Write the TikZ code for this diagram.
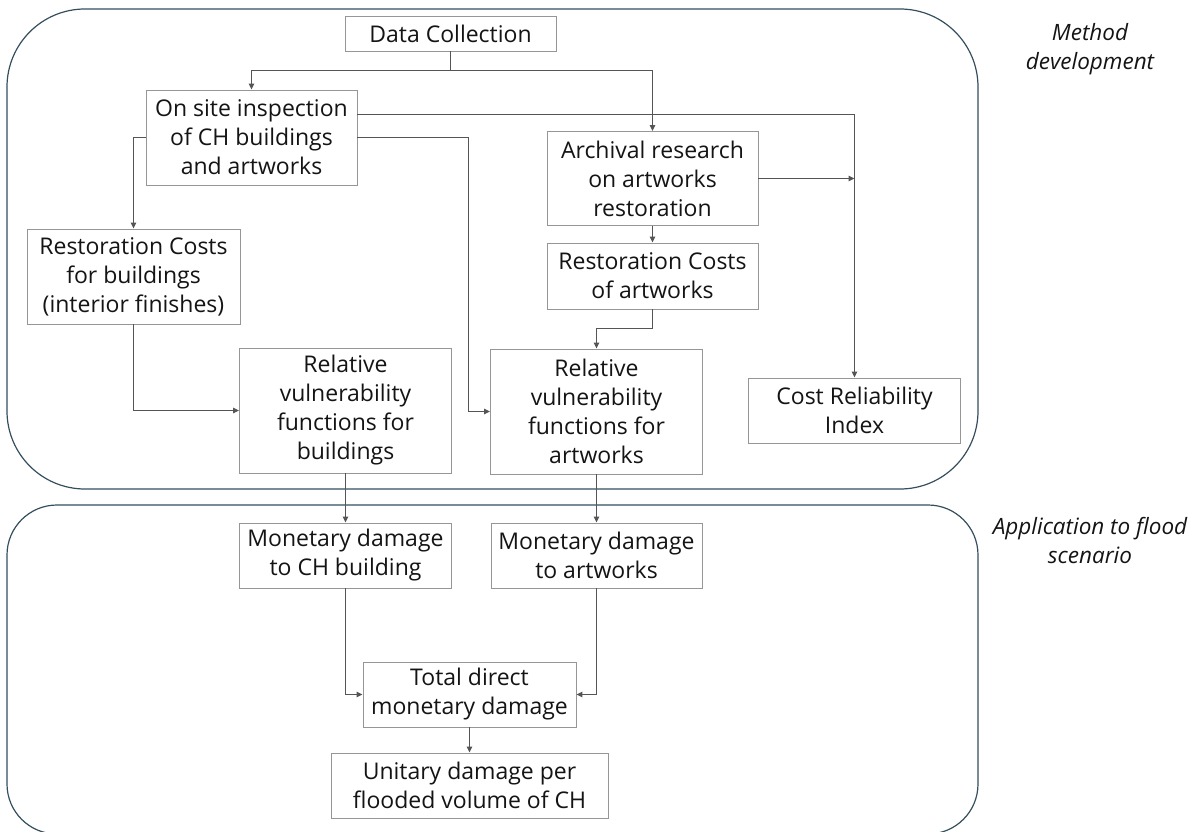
\documentclass[tikz,border=0pt]{standalone}
\usepackage{fontspec}
\setmainfont{Open Sans}
\usetikzlibrary{arrows.meta}
\definecolor{boxline}{RGB}{150,150,150}
\definecolor{arrcol}{RGB}{85,85,85}
\definecolor{outercol}{RGB}{52,78,94}
\definecolor{txt}{RGB}{20,20,20}
\begin{document}
\begin{tikzpicture}[x=1pt,y=-1pt,
  box/.style={draw=boxline, line width=0.9pt, fill=white, inner sep=0pt, align=center, text=txt,
    font=\fontsize{23}{29}\selectfont},
  arr/.style={draw=arrcol, line width=1.1pt, -{Triangle[length=6pt,width=5.5pt]}},
  outer/.style={draw=outercol, line width=1.2pt},
  lab/.style={align=center, text=txt, font=\fontsize{22.5}{29}\selectfont\itshape}]
\useasboundingbox (0,0) rectangle (1203,832);
% outer frames
\draw[outer, rounded corners=78pt] (7,9) rectangle (978,489);
\draw[outer, rounded corners=50pt] (7,505) rectangle (978,834);
\node[lab] (md) at (1090,49) {Method\\development};
\node[lab] (ap) at (1090,540) {Application to flood\\scenario};
% boxes
\node[box, minimum width=211pt, minimum height=35pt] (dc) at (450.5,33.5) {Data Collection};
\node[box, minimum width=211pt, minimum height=95pt] (os) at (251.5,137.5) {On site inspection\\of CH buildings\\and artworks};
\node[box, minimum width=211pt, minimum height=94pt] (ar) at (652.5,178.5) {Archival research\\on artworks\\restoration};
\node[box, minimum width=211pt, minimum height=66pt] (rca) at (652.5,276) {Restoration Costs\\of artworks};
\node[box, minimum width=213pt, minimum height=95pt] (rcb) at (133.5,276.5) {Restoration Costs\\for buildings\\(interior finishes)};
\node[box, minimum width=212pt, minimum height=125pt] (rvb) at (345.5,410.5) {Relative\\vulnerability\\functions for\\buildings};
\node[box, minimum width=212pt, minimum height=125pt] (rva) at (596.5,411.5) {Relative\\vulnerability\\functions for\\artworks};
\node[box, minimum width=212pt, minimum height=65pt] (cri) at (854.5,410.5) {Cost Reliability\\Index};
\node[box, minimum width=212pt, minimum height=65pt] (mdb) at (345.5,555.5) {Monetary damage\\to CH building};
\node[box, minimum width=211pt, minimum height=65pt] (mda) at (596.5,555.5) {Monetary damage\\to artworks};
\node[box, minimum width=213pt, minimum height=65pt] (tot) at (469.5,694.5) {Total direct\\monetary damage};
\node[box, minimum width=277pt, minimum height=65pt] (uni) at (469.5,785.5) {Unitary damage per\\flooded volume of CH};
% helper coordinates
\coordinate (j1) at (450.5,70.5);
\coordinate (c1) at (854.5,114.5);
\coordinate (c2) at (468.5,137.5);
\coordinate (c3) at (652.5,328.5);
% connectors
\draw[arr] (dc.south) -- (j1) -| (os.north);
\draw[arr] (j1) -| (ar.north);
\draw[arr] (os.east |- c1) -| (cri.north);
\draw[arr] (ar.east) -- (ar.east -| cri.north);
\draw[arr] (os.west) -| (rcb.north);
\draw[arr] (os.east) -- (c2) |- (rva.west);
\draw[arr] (ar.south) -- (rca.north);
\draw[arr] (rca.south) -- (c3) -| (rva.north);
\draw[arr] (rcb.south) |- (rvb.west);
\draw[arr] (rvb.south) -- (mdb.north);
\draw[arr] (rva.south) -- (mda.north);
\draw[arr] (mdb.south) |- (tot.west);
\draw[arr] (mda.south) |- (tot.east);
\draw[arr] (tot.south) -- (uni.north);
\end{tikzpicture}
\end{document}
